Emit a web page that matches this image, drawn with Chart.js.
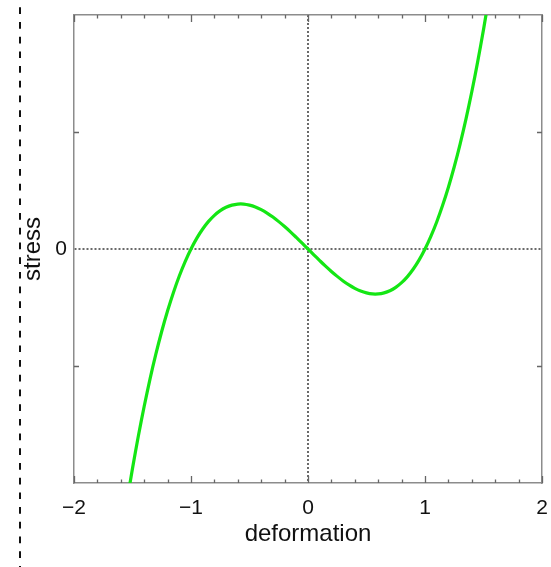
<!DOCTYPE html>
<html>
<head>
<meta charset="utf-8">
<script src="https://cdn.jsdelivr.net/npm/chart.js@4"></script>
<style>
  html, body { margin: 0; padding: 0; background: #fff; }
</style>
</head>
<body>
<canvas id="stressChart" width="551" height="567"></canvas>
<script>
// values
const deformation = [-1.55, -1.5, -1.45, -1.4, -1.35, -1.3, -1.25, -1.2, -1.15, -1.1, -1.05, -1.0,
  -0.95, -0.9, -0.85, -0.8, -0.75, -0.7, -0.65, -0.6, -0.55, -0.5, -0.45, -0.4, -0.35, -0.3, -0.25, -0.2, -0.15, -0.1, -0.05,
  0, 0.05, 0.1, 0.15, 0.2, 0.25, 0.3, 0.35, 0.4, 0.45, 0.5, 0.55, 0.6, 0.65, 0.7, 0.75, 0.8, 0.85, 0.9, 0.95,
  1.0, 1.05, 1.1, 1.15, 1.2, 1.25, 1.3, 1.35, 1.4, 1.45, 1.5, 1.55];
const stress = [-2.174, -1.875, -1.599, -1.344, -1.110, -0.897, -0.703, -0.528, -0.371, -0.231, -0.108, 0,
  0.093, 0.171, 0.236, 0.288, 0.328, 0.357, 0.375, 0.384, 0.384, 0.375, 0.359, 0.336, 0.307, 0.273, 0.234, 0.192, 0.147, 0.099, 0.050,
  0, -0.050, -0.099, -0.147, -0.192, -0.234, -0.273, -0.307, -0.336, -0.359, -0.375, -0.384, -0.384, -0.375, -0.357, -0.328, -0.288, -0.236, -0.171, -0.093,
  0, 0.108, 0.231, 0.371, 0.528, 0.703, 0.897, 1.110, 1.344, 1.599, 1.875, 2.174];

const xLabels = [-2, -1, 0, 1, 2];
const yLabels = [0];
const xMinorTicks = [-1.8, -1.6, -1.4, -1.2, -0.8, -0.6, -0.4, -0.2, 0.2, 0.4, 0.6, 0.8, 1.2, 1.4, 1.6, 1.8];
const yMinorTicks = [-1, 1];

const FONT = "'Liberation Sans', Arial, Helvetica, sans-serif";
const frameColor = '#8c8c8c';
const tickColor = '#666';
const textColor = '#111';

const fmt = v => (v < 0 ? '\u2212' + Math.abs(v) : String(v));
const zeroLine = c => (c.tick && c.tick.value === 0 ? '#6a6a6a' : 'rgba(0,0,0,0)');

// inward tick marks + the dashed line at the left edge
const decorations = {
  id: 'decorations',
  afterDraw(chart) {
    const ctx = chart.ctx;
    const a = chart.chartArea;
    const xs = chart.scales.x, ys = chart.scales.y;
    ctx.save();
    ctx.strokeStyle = tickColor;
    ctx.lineWidth = 1.3;
    ctx.beginPath();
    xLabels.forEach(v => {
      const px = Math.round(xs.getPixelForValue(v)) + 0.5;
      ctx.moveTo(px, a.bottom); ctx.lineTo(px, a.bottom - 7);
      ctx.moveTo(px, a.top); ctx.lineTo(px, a.top + 7);
    });
    xMinorTicks.forEach(v => {
      const px = Math.round(xs.getPixelForValue(v)) + 0.5;
      ctx.moveTo(px, a.bottom); ctx.lineTo(px, a.bottom - 3.5);
      ctx.moveTo(px, a.top); ctx.lineTo(px, a.top + 3.5);
    });
    yMinorTicks.forEach(v => {
      const py = Math.round(ys.getPixelForValue(v)) + 0.5;
      ctx.moveTo(a.left, py); ctx.lineTo(a.left + 5, py);
      ctx.moveTo(a.right, py); ctx.lineTo(a.right - 5, py);
    });
    ctx.stroke();

    ctx.strokeStyle = '#111';
    ctx.lineWidth = 2;
    ctx.setLineDash([6.7, 8]);
    ctx.lineDashOffset = -7.3;
    ctx.beginPath();
    ctx.moveTo(20, 0);
    ctx.lineTo(20, chart.height);
    ctx.stroke();
    ctx.restore();
  }
};

const ctx = document.getElementById('stressChart').getContext('2d');
new Chart(ctx, {
  type: 'line',
  data: {
    datasets: [{
      data: deformation.map((x, i) => ({ x, y: stress[i] })),
      borderColor: '#14e614',
      borderWidth: 3.2,
      pointRadius: 0,
      tension: 0.3,
      fill: false
    }]
  },
  options: {
    responsive: false,
    animation: false,
    layout: { padding: { top: 15, right: 9, left: 0, bottom: 0 } },
    plugins: { legend: { display: false }, tooltip: { enabled: false } },
    scales: {
      x: {
        type: 'linear', position: 'bottom', min: -2, max: 2,
        afterBuildTicks: s => { s.ticks = xLabels.map(v => ({ value: v })); },
        afterFit: s => { s.height = 84; s.paddingLeft = 0; s.paddingRight = 0; },
        ticks: { callback: fmt, font: { family: FONT, size: 21 }, color: textColor, padding: 13, maxRotation: 0, autoSkip: false },
        grid: { drawTicks: false, color: zeroLine, lineWidth: 2 },
        border: { display: true, color: frameColor, width: 1.5, dash: [2, 2] },
        title: { display: true, text: 'deformation', font: { family: FONT, size: 24 }, color: textColor, padding: { top: 0, bottom: 18 } }
      },
      y: {
        type: 'linear', position: 'left', min: -2, max: 2,
        afterBuildTicks: s => { s.ticks = yLabels.map(v => ({ value: v })); },
        afterFit: s => { s.width = 74; s.paddingTop = 0; s.paddingBottom = 0; },
        ticks: { callback: fmt, font: { family: FONT, size: 21 }, color: textColor, padding: 7 },
        grid: { drawTicks: false, color: zeroLine, lineWidth: 2 },
        border: { display: true, color: frameColor, width: 1.5, dash: [2, 2] },
        title: { display: true, text: 'stress', font: { family: FONT, size: 24 }, color: textColor, padding: { top: 19, bottom: 0 } }
      },
      x2: {
        type: 'linear', position: 'top', min: -2, max: 2,
        afterFit: s => { s.height = 0; },
        ticks: { display: false },
        grid: { display: false },
        border: { display: true, color: frameColor, width: 1.5 }
      },
      y2: {
        type: 'linear', position: 'right', min: -2, max: 2,
        afterFit: s => { s.width = 0; },
        ticks: { display: false },
        grid: { display: false },
        border: { display: true, color: frameColor, width: 1.5 }
      }
    }
  },
  plugins: [decorations]
});
</script>
</body>
</html>
